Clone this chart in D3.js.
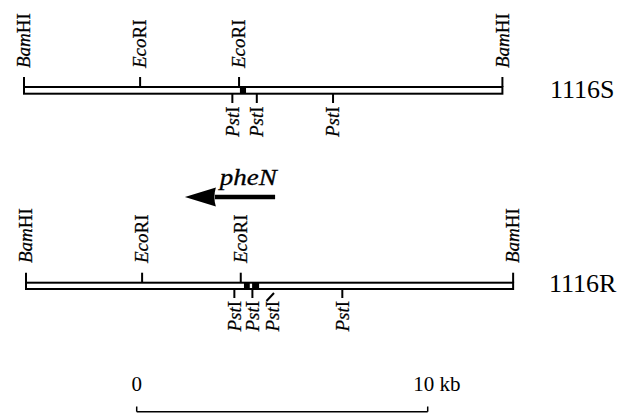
<!DOCTYPE html>
<html><head><meta charset="utf-8">
<script src="https://cdn.jsdelivr.net/npm/d3@7"></script>
<style>body{margin:0;background:#fff}svg{display:block}</style>
</head><body>
<script>
// ---- data (positions in kb) ----
const mapNames = ["1116S", "1116R"];
const mapLengthKb = [16.44, 16.74];
const sitesAbove1116S = [["BamHI", 0], ["EcoRI", 3.99], ["EcoRI", 7.39], ["BamHI", 16.44]];
const sitesBelow1116S = [["PstI", 7.16], ["PstI", 8.0], ["PstI", 10.62]];
const boxes1116S = [[7.42, 7.63]];
const sitesAbove1116R = [["BamHI", 0], ["EcoRI", 3.99], ["EcoRI", 7.38], ["BamHI", 16.74]];
const sitesBelow1116R = [["PstI", 7.16], ["PstI", 7.78], ["PstI", 8.47], ["PstI", 10.87]];
const slantedSite1116R = [8.47];
const boxes1116R = [[7.49, 7.69], [7.77, 8.01]];
const geneArrow = {name: "pheN", fromKb: 8.56, toKb: 5.46};
const scaleTicks = [0, 10];
const scaleLabels = ["0", "10 kb"];

const W = 631, H = 415;
const svg = d3.select("body").append("svg").attr("width", W).attr("height", H);
const serif = "'Liberation Serif','Times New Roman',serif";
const pxPerKb = 29.1;

const layout = [
  {x0: 24, barTop: 87, barBot: 93.7, aboveTop: 77, labelAboveY: 68, belowBot: 103, labelBelowY: 106.5, nameX: 550, nameY: 98.3},
  {x0: 26, barTop: 282.7, barBot: 289, aboveTop: 272.7, labelAboveY: 263, belowBot: 298, labelBelowY: 301, nameX: 549, nameY: 292}
];
const above = [sitesAbove1116S, sitesAbove1116R];
const below = [sitesBelow1116S, sitesBelow1116R];
const boxes = [boxes1116S, boxes1116R];
const slanted = [[], slantedSite1116R];

function enzymeText(sel, name) {
  const it = name.slice(0, 3), ro = name.slice(3);
  sel.append("tspan").attr("font-style", "italic").text(it);
  sel.append("tspan").attr("font-style", "normal").text(ro);
}

mapNames.forEach((name, i) => {
  const L = layout[i];
  const x = d3.scaleLinear().domain([0, 10]).range([L.x0, L.x0 + 10 * pxPerKb]);
  const g = svg.append("g");
  // bar
  g.append("rect").attr("x", x(0)).attr("y", L.barTop)
    .attr("width", x(mapLengthKb[i]) - x(0)).attr("height", L.barBot - L.barTop)
    .attr("fill", "#fff").attr("stroke", "#000").attr("stroke-width", 2);
  // black boxes
  boxes[i].forEach(b => {
    g.append("rect").attr("x", x(b[0])).attr("y", L.barTop)
      .attr("width", x(b[1]) - x(b[0])).attr("height", L.barBot - L.barTop).attr("fill", "#000");
  });
  // above sites
  above[i].forEach(s => {
    g.append("line").attr("x1", x(s[1])).attr("x2", x(s[1]))
      .attr("y1", L.barTop).attr("y2", L.aboveTop).attr("stroke", "#000").attr("stroke-width", 2);
    const t = g.append("text").attr("transform", `translate(${x(s[1]) + 6.3},${L.labelAboveY}) rotate(-90)`)
      .attr("font-family", serif).attr("font-size", 19).attr("text-anchor", "start")
      .attr("stroke", "#000").attr("stroke-width", 0.25);
    enzymeText(t, s[0]);
  });
  // below sites
  below[i].forEach(s => {
    const isSlant = slanted[i].includes(s[1]);
    if (isSlant) {
      g.append("line").attr("x1", x(s[1]) - 6).attr("y1", L.belowBot + 3)
        .attr("x2", x(s[1]) + 1.5).attr("y2", L.barBot + 4)
        .attr("stroke", "#000").attr("stroke-width", 2);
    } else {
      g.append("line").attr("x1", x(s[1])).attr("x2", x(s[1]))
        .attr("y1", L.barBot).attr("y2", L.belowBot).attr("stroke", "#000").attr("stroke-width", 2);
    }
    const t = g.append("text").attr("transform", `translate(${x(s[1]) + 6.3},${L.labelBelowY}) rotate(-90)`)
      .attr("font-family", serif).attr("font-size", 19).attr("text-anchor", "end")
      .attr("stroke", "#000").attr("stroke-width", 0.25);
    enzymeText(t, s[0]);
  });
  // map name
  g.append("text").attr("x", L.nameX).attr("y", L.nameY)
    .attr("font-family", serif).attr("font-size", 26).text(name);

  if (i === 1) {
    // gene arrow
    const yA = 197;
    const headBase = x(geneArrow.toKb) + 30;
    g.append("line").attr("x1", x(geneArrow.fromKb)).attr("x2", headBase)
      .attr("y1", yA).attr("y2", yA).attr("stroke", "#000").attr("stroke-width", 4.3);
    g.append("path")
      .attr("d", `M${x(geneArrow.toKb)},${yA} L${headBase + 1},${yA - 9.5} Q${headBase - 2},${yA} ${headBase + 1},${yA + 9.5} Z`)
      .attr("fill", "#000");
    g.append("text").attr("x", headBase + 5).attr("y", 185)
      .attr("font-family", serif).attr("font-style", "italic").attr("font-size", 23)
      .attr("stroke", "#000").attr("stroke-width", 0.3)
      .attr("textLength", 57).attr("lengthAdjust", "spacingAndGlyphs").text(geneArrow.name);
  }
});

// scale bar
const sx = d3.scaleLinear().domain([0, 10]).range([136.7, 136.7 + 10 * pxPerKb]);
const sg = svg.append("g");
sg.append("line").attr("x1", sx(0)).attr("x2", sx(10)).attr("y1", 411.7).attr("y2", 411.7)
  .attr("stroke", "#000").attr("stroke-width", 1.5);
scaleTicks.forEach((t, k) => {
  sg.append("line").attr("x1", sx(t)).attr("x2", sx(t)).attr("y1", 411.7).attr("y2", 406.5)
    .attr("stroke", "#000").attr("stroke-width", 1.5);
  sg.append("text").attr("x", k === 0 ? sx(t) : sx(t) - 14.5).attr("y", 390.7)
    .attr("text-anchor", k === 0 ? "middle" : "start")
    .attr("font-family", serif).attr("font-size", 21).text(scaleLabels[k]);
});
</script>
</body></html>
